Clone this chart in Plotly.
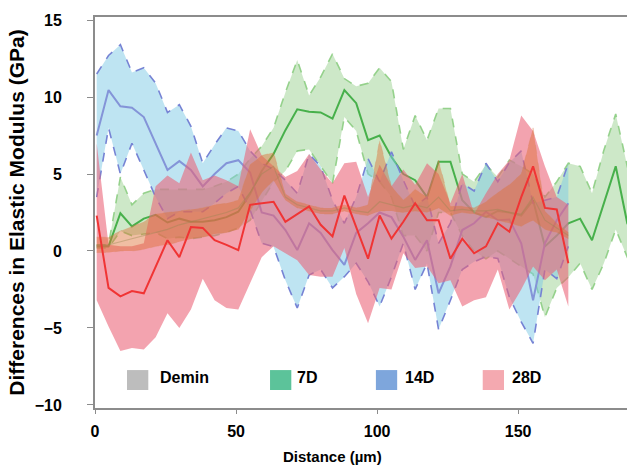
import plotly.graph_objects as go

# ---------------- data ----------------
distance = [0.6, 4.8, 9.0, 13.1, 17.3, 21.5, 25.7, 29.9, 34.0, 38.2, 42.4, 46.6, 50.8,
            55.0, 59.1, 63.3, 67.5, 71.7, 75.9, 80.0, 84.2, 88.4, 92.6, 96.8, 100.9,
            105.1, 109.3, 113.5, 117.7, 121.8, 126.0, 130.2, 134.4, 138.6, 142.8, 146.9,
            151.1, 155.3, 159.5, 163.7, 167.8, 172.0, 176.2, 180.4, 184.6, 188.7, 192.9]

# 7D (green) – full length
d7_mean = [0.3, 0.3, 2.45, 1.6, 2.1, 2.35, 1.85, 2.1, 1.9, 1.9, 2.0, 2.2, 2.55, 3.7, 5.2, 6.3,
           7.85, 9.2, 9.05, 9.0, 8.6, 10.45, 9.6, 7.2, 7.5, 6.1, 5.0, 4.6, 3.5, 5.8, 5.8, 3.3,
           2.5, 2.2, 2.6, 2.5, 2.3, 3.3, 0.3, 1.0, 1.8, 2.1, 0.7, 3.1, 5.5, 1.8, 0.5]
d7_upper = [0.4, 0.4, 4.8, 3.0, 3.75, 4.0, 4.0, 4.0, 4.0, 4.0, 4.2, 4.5, 5.0, 6.0, 6.8, 8.0,
            10.3, 12.4, 10.1, 11.3, 12.8, 11.2, 10.7, 10.9, 11.9, 11.0, 6.6, 8.8, 7.2, 9.26,
            9.26, 5.0, 4.5, 5.6, 4.8, 5.9, 5.5, 5.0, 3.5, 4.5, 5.7, 5.5, 3.75, 6.55, 8.9, 5.5, 3.0]
d7_lower = [0.2, 0.2, 1.3, 1.0, 1.1, 1.2, 0.8, 0.9, 0.8, 0.9, 1.0, 1.2, 1.5, 2.0, 3.2, 4.5,
            5.2, 6.5, 6.6, 5.5, 4.4, 8.7, 7.8, 5.0, 4.5, 3.5, 1.0, 1.0, 0.0, 2.5, 2.5, 1.0,
            0.0, -0.5, 0.0, -0.5, -1.0, -1.5, -4.3, -2.4, -1.7, -0.8, -2.5, -0.8, 1.4, -0.4, -2.0]

# 14D (blue) – first 41 points
d14_mean = [7.5, 10.45, 9.4, 9.3, 8.7, 7.0, 5.26, 5.84, 5.26, 4.2, 5.0, 5.7, 5.9, 5.1, 2.5,
            2.3, 1.36, 0.06, 1.8, 1.17, 0.06, -0.9, 1.17, 1.8, 2.5, 2.2, 0.93, -0.58, 0.7,
            -2.75, -1.0, 1.36, 1.8, 2.55, 2.0, 2.05, 0.5, -3.2, 0.5, 2.0, 3.1]
d14_upper = [11.5, 12.7, 13.4, 11.6, 11.9, 10.9, 9.0, 9.5, 8.1, 5.7, 6.9, 8.0, 7.8, 6.5, 5.7,
             5.3, 4.6, 3.75, 6.3, 5.5, 3.3, 1.8, 3.5, 6.0, 4.5, 6.45, 4.6, 2.9, 3.5, 0.5, 1.8,
             4.4, 3.9, 5.7, 4.5, 5.75, 6.5, 3.1, 3.3, 3.5, 5.7]
d14_lower = [3.5, 8.0, 5.0, 7.0, 5.26, 3.5, 2.1, 2.55, 2.55, 2.55, 3.1, 3.75, 4.2, 2.66, 0.5,
             0.28, -1.9, -3.7, -1.56, -1.2, -2.4, -1.67, -0.8, -2.0, -3.6, -1.67, 0.5, -2.5,
             -0.8, -5.1, -3.2, -1.2, -0.7, -0.37, -0.48, -3.0, -4.6, -6.0, -1.2, -1.8, 0.3]

# Demin – first 41 points
dm_mean = [0.4, 0.4, 0.6, 0.8, 1.0, 1.2, 1.4, 1.7, 1.9, 2.1, 2.3, 2.5, 2.8, 3.8, 5.0, 5.5,
           3.5, 3.0, 2.8, 2.6, 2.6, 2.8, 2.6, 2.5, 3.2, 3.0, 2.8, 3.0, 2.8, 3.5, 2.6, 2.7,
           2.6, 2.6, 2.7, 2.5, 2.4, 3.5, 2.0, 1.5, 1.0]
dm_upper = [0.9, 0.9, 1.3, 1.6, 1.9, 2.4, 2.5, 2.6, 2.7, 2.8, 3.0, 3.1, 3.3, 5.6, 6.2, 6.4,
            3.7, 3.2, 3.0, 2.8, 2.8, 3.0, 2.8, 3.0, 7.2, 4.2, 3.3, 4.0, 3.5, 5.9, 2.9, 2.9,
            2.8, 3.2, 3.8, 4.3, 5.0, 8.0, 2.6, 1.8, 1.2]
dm_lower = [-0.1, -0.1, 0.0, 0.0, 0.1, 0.3, 0.4, 0.6, 0.8, 0.9, 1.1, 1.2, 1.4, 2.6, 3.8, 4.6,
            3.3, 2.8, 2.6, 2.4, 2.4, 2.6, 2.4, 2.3, 2.6, 2.6, 2.5, 2.6, 2.5, 2.8, 2.3, 2.5,
            2.4, 2.2, 2.0, 1.8, 1.6, 2.0, 1.4, 1.2, 0.8]

# 28D (red) – first 41 points
d28_mean = [2.3, -2.4, -2.95, -2.6, -2.75, -1.0, 0.7, -0.4, 1.55, 1.5, 0.7, 0.4, 0.05, 3.0,
            3.1, 3.2, 1.9, 2.4, 2.9, 1.7, 0.95, 3.6, 1.6, -0.5, 2.3, 0.8, 1.9, 3.1, 2.0, 2.0,
            -0.5, 0.8, -0.15, 0.3, 1.8, 1.25, 3.5, 5.5, 2.8, 2.7, -0.8]
d28_upper = [7.0, 0.4, 0.3, 0.3, 0.5, 4.2, 4.9, 4.4, 6.4, 4.6, 4.9, 4.6, 4.2, 7.9, 6.2, 5.5,
             4.8, 5.2, 6.3, 5.3, 4.4, 5.7, 5.8, 3.5, 5.6, 4.2, 5.3, 4.3, 5.7, 5.0, 3.1, 5.0,
             2.4, 3.75, 5.0, 5.9, 8.8, 7.8, 5.5, 3.5, 3.0]
d28_lower = [-3.2, -4.9, -6.5, -6.3, -6.4, -5.6, -4.05, -5.0, -3.8, -1.8, -3.2, -3.7, -3.8,
             -2.1, -0.4, 0.3, -0.15, -0.6, -1.56, -1.67, -1.67, 0.2, -2.8, -4.7, -2.4, -2.5,
             -0.15, -1.1, -1.0, -2.1, -1.9, -3.6, -3.2, -3.0, -1.2, -3.8, -2.5, -1.0, -1.9,
             -1.2, -3.6]

legend_names = ["Demin", "7D", "14D", "28D"]
legend_colors = ["#bdbdbd", "#5cc39a", "#7ea6dc", "#f4a9b0"]

FONT = "Liberation Sans, Arial, sans-serif"

fig = go.Figure()


def band(x, lo, hi, fill, edge, dash_edges, edge_width=1.6):
    n = len(lo)
    xs = x[:n]
    fig.add_trace(go.Scatter(x=xs + xs[::-1], y=hi + lo[::-1], fill="toself",
                             fillcolor=fill, line=dict(width=0), mode="lines",
                             hoverinfo="skip", showlegend=False))
    if dash_edges:
        for ys in (hi, lo):
            fig.add_trace(go.Scatter(x=xs, y=ys, mode="lines",
                                     line=dict(color=edge, width=edge_width, dash="dash"),
                                     hoverinfo="skip", showlegend=False))


def mean_line(x, y, color, width=2):
    fig.add_trace(go.Scatter(x=x[:len(y)], y=y, mode="lines",
                             line=dict(color=color, width=width),
                             hoverinfo="skip", showlegend=False))


# 7D
band(distance, d7_lower, d7_upper, "rgba(130,197,117,0.40)", "rgba(140,205,130,0.9)", True)
mean_line(distance, d7_mean, "#47b04b")
# 14D
band(distance, d14_lower, d14_upper, "rgba(125,201,229,0.50)", "#7683d4", True)
mean_line(distance, d14_mean, "#8494d8")
# 28D
band(distance, d28_lower, d28_upper, "rgba(235,97,117,0.58)", "rgba(235,97,117,0.3)", False)
# Demin
band(distance, dm_lower, dm_upper, "rgba(222,110,50,0.45)", "rgba(215,130,90,0.3)", True, 1.0)
mean_line(distance, dm_mean, "rgba(150,135,80,0.4)", 1.2)
# 28D mean on top
mean_line(distance, d28_mean, "#f03434")

# legend (drawn as layout decorations)
sq_x = [0.0602, 0.329, 0.528, 0.7288]
tx_x = [0.1184, 0.376, 0.579, 0.780]
for name, col, sx, tx in zip(legend_names, legend_colors, sq_x, tx_x):
    fig.add_shape(type="rect", xref="paper", yref="paper", x0=sx, x1=sx + 0.04,
                  y0=0.046, y1=0.097, fillcolor=col, line=dict(width=0))
    fig.add_annotation(xref="paper", yref="paper", x=tx, y=0.079, text=name,
                       showarrow=False, xanchor="left", yanchor="middle",
                       font=dict(family=FONT, size=16, color="black", weight="bold"))

# x-axis title (placed as in the reference, left of the plot centre)
fig.add_annotation(xref="paper", yref="paper", x=0.4455, y=-0.123, text="Distance (µm)",
                   showarrow=False, xanchor="center", yanchor="middle",
                   font=dict(family=FONT, size=15, color="black", weight="bold"))

axis_col = "#8c8c8c"
fig.update_layout(
    width=627, height=467,
    margin=dict(l=95, r=0, t=17, b=59),
    plot_bgcolor="white", paper_bgcolor="white",
    showlegend=False,
    font=dict(family=FONT, color="black"),
    xaxis=dict(range=[0, 188.6], tickvals=[0, 50, 100, 150], showgrid=False,
               zeroline=False, showline=True, linecolor=axis_col, linewidth=2,
               mirror=True, ticks="outside", ticklen=4, tickcolor=axis_col,
               tickfont=dict(family=FONT, size=16, weight="bold"),
               ticklabelstandoff=4, automargin=False),
    yaxis=dict(range=[-10.2, 15.2], tickvals=[-10, -5, 0, 5, 10, 15], showgrid=False,
               zeroline=False, showline=True, linecolor=axis_col, linewidth=2,
               ticks="outside", ticklen=6, tickcolor=axis_col,
               tickfont=dict(family=FONT, size=16, weight="bold"),
               ticklabelstandoff=22, automargin=False,
               title=dict(text="Differences in Elastic Modulus (GPa)", standoff=4,
                          font=dict(family=FONT, size=21, weight="bold"))),
)

fig.write_html("out.html", config={"displayModeBar": False},
               post_script="document.body.style.margin='0';"
               "document.body.style.overflow='hidden';")
